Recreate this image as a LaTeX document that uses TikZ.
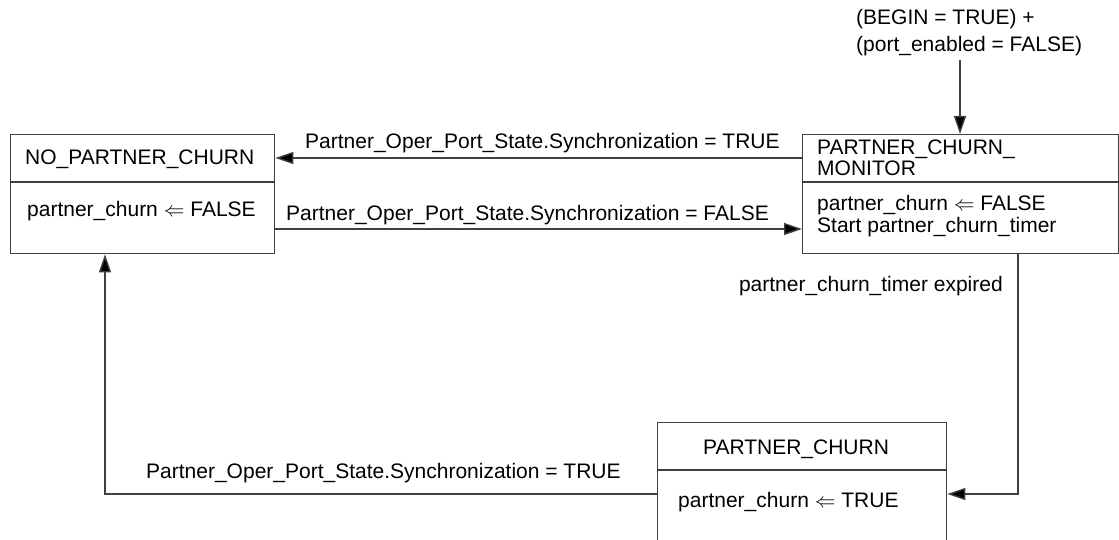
\documentclass[tikz,border=0pt]{standalone}
\usepackage{fontspec}
\setmainfont{Liberation Sans}
\usetikzlibrary{arrows.meta,calc}
\begin{document}
\begin{tikzpicture}[x=1pt,y=-1pt,
  font=\fontsize{21}{22}\selectfont,
  box/.style={draw=black!75, line width=1.4pt, rectangle, inner sep=0pt, anchor=north west},
  divider/.style={draw=black!75, line width=1.4pt},
  conn/.style={draw=black!75, line width=1.4pt},
  arr/.style={conn, -{Triangle[length=18pt,width=12pt,fill=black]}},
  txt/.style={inner sep=0pt, anchor=base west},
  lbl/.style={inner sep=0pt, anchor=base west}]
\useasboundingbox (0,0) rectangle (1119,540);
\clip (0,0) rectangle (1119,540);
% boxes
\node[box, minimum width=264pt, minimum height=119pt] (npc) at (10,134) {};
\node[box, minimum width=316pt, minimum height=119pt] (pcm) at (802,134) {};
\node[box, minimum width=289pt, minimum height=130pt] (pc) at (657,422) {};
\draw[divider] (npc.west |- 0,182) -- (npc.east |- 0,182);
\draw[divider] (pcm.west |- 0,182) -- (pcm.east |- 0,182);
\draw[divider] (pc.west |- 0,470) -- (pc.east |- 0,470);
% box texts
\node[txt] (t1) at (25,165) {NO\_PARTNER\_CHURN};
\node[txt] (t2) at (27,217) {partner\_churn $\Leftarrow$ FALSE};
\node[txt] (t3) at (817,155) {PARTNER\_CHURN\_};
\node[txt] (t4) at (817,176) {MONITOR};
\node[txt] (t5) at (817,211) {partner\_churn $\Leftarrow$ FALSE};
\node[txt] (t6) at (817,233) {Start partner\_churn\_timer};
\node[inner sep=0pt, anchor=base] (t7) at (796,454) {PARTNER\_CHURN};
\node[txt] (t8) at (678,507) {partner\_churn $\Leftarrow$ TRUE};
% initial condition
\node[txt] (i1) at (856,25) {(BEGIN = TRUE) +};
\node[txt] (i2) at (856,52) {(port\_enabled = FALSE)};
\coordinate (istart) at (960,60);
\draw[arr] (istart) -- (istart |- pcm.north);
% transitions
\draw[arr] (pcm.west |- 0,158) -- (npc.east |- 0,158);
\node[lbl] (l1) at (305,149) {Partner\_Oper\_Port\_State.Synchronization = TRUE};
\draw[arr] (npc.east |- 0,229) -- (pcm.west |- 0,229);
\node[lbl] (l2) at (286,221) {Partner\_Oper\_Port\_State.Synchronization = FALSE};
\coordinate (d1) at (1018,494);
\draw[arr] (d1 |- pcm.south) -- (d1) -- (pc.east |- d1);
\node[inner sep=0pt, anchor=base east] (l3) at (1003,291) {partner\_churn\_timer expired};
\coordinate (d2) at (105,494);
\draw[arr] (pc.west |- d2) -- (d2) -- (d2 |- npc.south);
\node[lbl] (l4) at (146,478) {Partner\_Oper\_Port\_State.Synchronization = TRUE};
\end{tikzpicture}
\end{document}
